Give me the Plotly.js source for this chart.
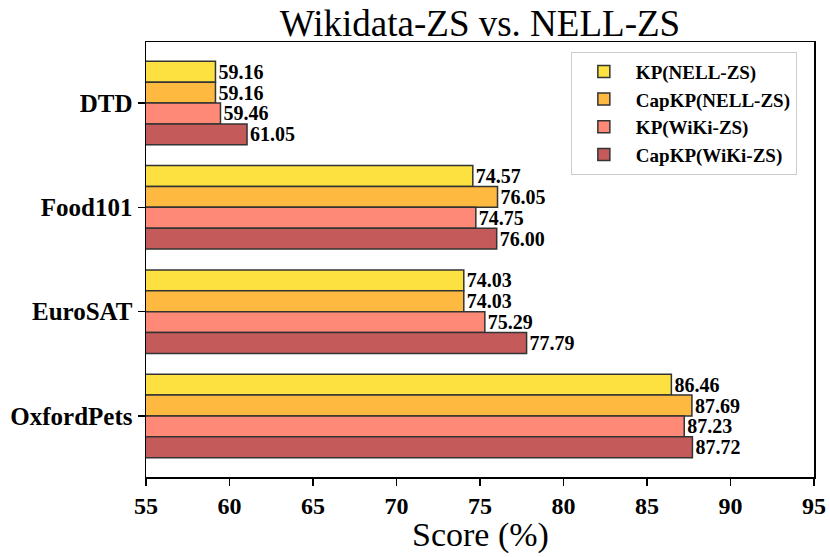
<!DOCTYPE html>
<html>
<head>
<meta charset="utf-8">
<script src="https://cdn.plot.ly/plotly-3.0.1.min.js"></script>
<style>
  html, body { margin: 0; padding: 0; background: #fff; }
  #chart { width: 830px; height: 557px; }
</style>
</head>
<body>
<div id="chart"></div>
<script>
let datasets = ['DTD', 'Food101', 'EuroSAT', 'OxfordPets'];

let kpNell = [59.16, 74.57, 74.03, 86.46];
let capkpNell = [59.16, 76.05, 74.03, 87.69];
let kpWiki = [59.46, 74.75, 75.29, 87.23];
let capkpWiki = [61.05, 76.00, 77.79, 87.72];

let seriesNames = ['KP(NELL-ZS)', 'CapKP(NELL-ZS)', 'KP(WiKi-ZS)', 'CapKP(WiKi-ZS)'];
let seriesColors = ['#fde140', '#feb940', '#fe8976', '#c45a5a'];

let xTicks = [55, 60, 65, 70, 75, 80, 85, 90, 95];

let serif = 'Liberation Serif, Times New Roman, serif';

function makeTrace(values, i) {
  return {
    type: 'bar',
    orientation: 'h',
    y: datasets,
    x: values,
    name: seriesNames[i],
    marker: {
      color: seriesColors[i],
      line: { color: '#333333', width: 1.5 }
    },
    texttemplate: '%{x:.2f}',
    textposition: 'outside',
    constraintext: 'none',
    cliponaxis: false,
    textfont: { family: serif, size: 20, color: '#000', weight: 'bold' },
    hoverinfo: 'none'
  };
}

let traces = [kpNell, capkpNell, kpWiki, capkpWiki].map(makeTrace);

let layout = {
  width: 830,
  height: 557,
  paper_bgcolor: '#fff',
  plot_bgcolor: '#fff',
  barmode: 'group',
  bargap: 0.2,
  bargroupgap: 0,
  margin: { l: 146, r: 16, t: 42, b: 80 },
  title: {
    text: 'Wikidata-ZS vs. NELL-ZS',
    font: { family: serif, size: 37, color: '#000' },
    x: 0.5,
    xref: 'paper',
    y: 0.935,
    yanchor: 'bottom'
  },
  xaxis: {
    range: [55, 95],
    tickvals: xTicks,
    ticktext: xTicks.map(String),
    ticks: 'outside',
    ticklen: 7,
    tickwidth: 1.5,
    tickcolor: '#000',
    showline: true,
    linecolor: '#000',
    linewidth: 1.5,
    mirror: true,
    showgrid: false,
    zeroline: false,
    tickfont: { family: serif, size: 24, color: '#000', weight: 'bold' }
  },
  yaxis: {
    type: 'category',
    categoryorder: 'array',
    categoryarray: datasets,
    range: [3.585, -0.585],
    ticks: 'outside',
    ticklen: 7,
    tickwidth: 1.5,
    tickcolor: '#000',
    showline: true,
    linecolor: '#000',
    linewidth: 1.5,
    mirror: true,
    showgrid: false,
    zeroline: false,
    tickfont: { family: serif, size: 25, color: '#000', weight: 'bold' }
  },
  // x axis title drawn as annotation so it sits where the reference has it
  annotations: [
    {
      xref: 'paper',
      yref: 'paper',
      x: 0.5,
      y: -0.133,
      xanchor: 'center',
      yanchor: 'middle',
      showarrow: false,
      text: 'Score (%)',
      font: { family: serif, size: 34, color: '#000' }
    }
  ],
  showlegend: true,
  legend: {
    x: 0.636,
    y: 0.978,
    xanchor: 'left',
    yanchor: 'top',
    bgcolor: '#fff',
    bordercolor: '#cccccc',
    borderwidth: 1,
    itemwidth: 54,
    font: { family: serif, size: 19, color: '#000', weight: 'bold' },
    traceorder: 'normal'
  }
};

let opts = {
  displayModeBar: false,
  staticPlot: true
};

Plotly.newPlot('chart', traces, layout, opts);
</script>
</body>
</html>
